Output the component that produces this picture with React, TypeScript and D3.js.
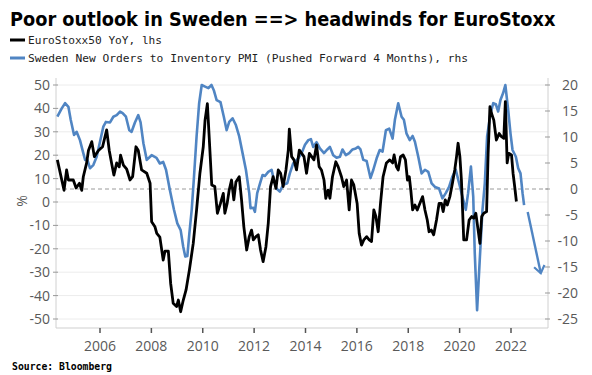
import React, { useLayoutEffect, useRef, useState } from "react";
import * as d3 from "d3";

const W = 592;
const H = 375;

const titleText = "Poor outlook in Sweden ==> headwinds for EuroStoxx";
const legendLabels = ["EuroStoxx50 YoY, lhs", "Sweden New Orders to Inventory PMI (Pushed Forward 4 Months), rhs"];
const sourceText = "Source: Bloomberg";

const xTickYears = [2006, 2008, 2010, 2012, 2014, 2016, 2018, 2020, 2022];
const leftTicks = [50, 40, 30, 20, 10, 0, -10, -20, -30, -40, -50];
const rightTicks = [20, 15, 10, 5, 0, -5, -10, -15, -20, -25];

// EuroStoxx50 YoY (lhs), decimal year
const euroTimes = [
  2004.34, 2004.6, 2004.7, 2004.77, 2004.96, 2005.07, 2005.2, 2005.29, 2005.35, 2005.48, 2005.55, 2005.68, 2005.78, 2005.94,
  2006.1, 2006.26, 2006.36, 2006.45, 2006.54, 2006.65, 2006.75, 2006.8, 2006.91, 2007.04, 2007.17, 2007.27, 2007.4, 2007.49,
  2007.62, 2007.82, 2007.95, 2008.01, 2008.14, 2008.21, 2008.33, 2008.46, 2008.53, 2008.66, 2008.75, 2008.85, 2008.98, 2009.05,
  2009.14, 2009.24, 2009.35, 2009.48, 2009.63, 2009.76, 2009.89, 2010.02, 2010.09, 2010.18, 2010.25, 2010.35, 2010.47, 2010.57,
  2010.69, 2010.8, 2010.86, 2010.95, 2011.03, 2011.12, 2011.21, 2011.29, 2011.42, 2011.51, 2011.6, 2011.71, 2011.81, 2011.9,
  2011.97, 2012.07, 2012.16, 2012.25, 2012.35, 2012.46, 2012.55, 2012.64, 2012.74, 2012.85, 2012.94, 2013.03, 2013.13, 2013.24,
  2013.33, 2013.37, 2013.46, 2013.55, 2013.65, 2013.76, 2013.85, 2013.94, 2014.04, 2014.15, 2014.24, 2014.33, 2014.43, 2014.53,
  2014.62, 2014.72, 2014.79, 2014.88, 2014.95, 2015.05, 2015.18, 2015.27, 2015.4, 2015.49, 2015.6, 2015.7, 2015.79, 2015.88,
  2016.01, 2016.09, 2016.18, 2016.27, 2016.38, 2016.48, 2016.57, 2016.66, 2016.74, 2016.83, 2016.92, 2017.02, 2017.15, 2017.28,
  2017.39, 2017.45, 2017.54, 2017.61, 2017.7, 2017.8, 2017.89, 2017.97, 2018.04, 2018.1, 2018.17, 2018.26, 2018.35, 2018.45,
  2018.56, 2018.65, 2018.74, 2018.81, 2018.9, 2018.99, 2019.1, 2019.2, 2019.29, 2019.36, 2019.44, 2019.52, 2019.62, 2019.72,
  2019.81, 2019.88, 2019.94, 2020.01, 2020.07, 2020.16, 2020.27, 2020.37, 2020.47, 2020.55, 2020.63, 2020.72, 2020.79, 2020.86,
  2020.94, 2021.05, 2021.11, 2021.18, 2021.24, 2021.33, 2021.43, 2021.54, 2021.63, 2021.72, 2021.78, 2021.85, 2021.91, 2022.02,
  2022.08, 2022.15, 2022.21,
];
const euroValues = [
  18, 5, 13.7, 9.4, 9.4, 6, 8, 5, 10.8, 16.7, 22, 25.8, 19.4, 22,
  23.6, 30.8, 22, 16.7, 11.5, 16.7, 15, 20, 15.8, 14, 9.4, 10.8, 23.6, 22,
  13.7, 12.3, 8, -8.4, -10.6, -13.4, -15, -24.8, -21, -21, -34.7, -43.3, -44.7, -41.9,
  -46.9, -42, -37.6, -29, -17.7, -3.4, 12.3, 23.6, 35, 42, 27.9, 7.3, 6.6, -4.8,
  -0.6, 3.7, -4.8, -0.6, 5.1, 9.4, 0.9, 8.5, 10.8, 0.9, -10.6, -20.5, -14.8, -12,
  -16.2, -14.8, -14, -20.5, -25.5, -19.1, -9.1, 6.6, 10.8, 5.8, 13.7, 12.3, 6.6, 13.7,
  22.2, 31.1, 19.4, 18, 13.7, 22.2, 20.8, 19.4, 12.3, 20.8, 19.4, 18, 24.4, 15.1,
  13.7, 9.4, 1.6, 5.1, 1.6, 10.8, 17.2, 15.1, 10.8, 6.6, 9.4, -3.4, 9.4, 7.3,
  -0.6, -13.4, -18.4, -16.2, -14.8, -16.2, -16.9, -3.4, -6.2, -12.7, -0.6, 10.8, 16.7, 18,
  16.7, 20.1, 15, 13.7, 19.4, 20.1, 18, 9.4, 10.8, 5.1, -3.4, -1.3, -3.4, -0.6,
  2.3, -3.4, -7.7, -12.7, -12, -14, -7.7, -0.6, -0.6, -4.1, 0.9, -1.3, 2.3, 8,
  13.7, 19.4, 25.1, 19.4, 9.4, -16.2, -16.2, -7.7, -6.2, -6.9, -4.8, -12, -17.7, -6.2,
  -4.8, -4.1, 20.8, 40.7, 37.9, 35, 26.5, 29.3, 27.9, 27.2, 42.9, 16.7, 20.8, 20.1,
  12.3, 6, 0.2,
];

// Sweden New Orders to Inventory PMI, pushed forward 4 months (rhs)
const swedenTimes = [
  2004.34, 2004.51, 2004.64, 2004.77, 2004.86, 2004.99, 2005.09, 2005.22, 2005.35, 2005.42, 2005.51, 2005.61, 2005.74, 2005.87,
  2006.0, 2006.13, 2006.23, 2006.39, 2006.52, 2006.65, 2006.78, 2006.88, 2007.01, 2007.14, 2007.23, 2007.36, 2007.49, 2007.58,
  2007.69, 2007.82, 2008.01, 2008.2, 2008.33, 2008.46, 2008.57, 2008.72, 2008.88, 2009.01, 2009.14, 2009.24, 2009.32, 2009.4,
  2009.48, 2009.57, 2009.66, 2009.76, 2009.86, 2009.96, 2010.09, 2010.22, 2010.34, 2010.43, 2010.54, 2010.69, 2010.82, 2010.93,
  2011.03, 2011.16, 2011.29, 2011.42, 2011.55, 2011.68, 2011.81, 2011.86, 2011.97, 2012.03, 2012.12, 2012.23, 2012.33, 2012.42,
  2012.55, 2012.68, 2012.77, 2012.87, 2013.0, 2013.13, 2013.29, 2013.39, 2013.52, 2013.72, 2013.85, 2013.98, 2014.11, 2014.21,
  2014.3, 2014.43, 2014.56, 2014.72, 2014.85, 2014.95, 2015.08, 2015.21, 2015.34, 2015.44, 2015.57, 2015.7, 2015.83, 2015.96,
  2016.05, 2016.14, 2016.25, 2016.38, 2016.53, 2016.64, 2016.77, 2016.89, 2017.0, 2017.13, 2017.26, 2017.39, 2017.48, 2017.61,
  2017.74, 2017.83, 2017.93, 2018.06, 2018.17, 2018.26, 2018.39, 2018.52, 2018.65, 2018.78, 2018.91, 2019.04, 2019.2, 2019.33,
  2019.46, 2019.59, 2019.72, 2019.85, 2019.98, 2020.11, 2020.24, 2020.33, 2020.44, 2020.53, 2020.59, 2020.68, 2020.79, 2020.89,
  2020.98, 2021.07, 2021.2, 2021.31, 2021.41, 2021.5, 2021.59, 2021.69, 2021.78, 2021.89, 2021.98, 2022.06, 2022.19, 2022.28,
  2022.37, 2022.45, 2022.51,
];
const swedenValues = [
  13.9, 15.5, 16.5, 15.8, 13.3, 10.4, 11, 9.4, 6.9, 5.6, 5.6, 4, 4.6, 6.2,
  9.1, 12, 12.9, 12.8, 13.9, 14.2, 14.9, 14.6, 13.9, 11.3, 11, 12.8, 14.2, 12.8,
  8.8, 5.6, 6.5, 6, 4.9, 5.2, 3.7, -0.2, -4, -6.6, -7.9, -11.1, -13, -12.9,
  -8.5, -4, 2.4, 10.1, 16.5, 20, 19.7, 19.4, 20, 19, 17.1, 16.7, 13.9, 11.3,
  12.9, 13.6, 12.3, 10.1, 6.9, 3.7, -0.8, -3.7, -3.6, -4.4, -0.8, 1.1, 2.7, 2.5,
  3.3, 3.7, 1.7, 0.1, -0.5, 0.8, 1.1, 3, 4.9, 5.9, 6.9, 8.5, 9.4, 9.6,
  8.1, 9, 7.8, 6.9, 7.6, 8.1, 6.5, 6, 6.2, 7.6, 6.5, 6.9, 7.6, 7.8,
  8.1, 7.6, 5.6, 5.4, 2.1, 3.7, 5.9, 7.5, 7.2, 11.3, 11.6, 9.7, 13.3, 16.5,
  13.9, 13.3, 10.7, 9.4, 10.2, 9.1, 6.2, 3, 3.7, 3.3, 1.1, 0.4, 0.1, -1.8,
  -0.8, 0.4, 2.4, 3.7, 1.1, -1.5, -4, -0.8, 4.3, -1.5, -12.4, -23.3, -13, -4,
  1.1, 10.1, 14.5, 16.5, 16.3, 14.9, 17.1, 18.4, 20, 15.2, 10.7, 7.5, 6.2, 4,
  3, -0.8, -3.1,
];

// projected arrow (rhs)
const arrowTimes = [2022.65, 2023.16];
const arrowValues = [-4.4, -16.2];

const PL = 56;
const PR = 548;
const PT = 78;
const PB = 328;
const TITLE_W = 546;

export default function App() {
  const titleRef = useRef<SVGTextElement | null>(null);
  const [titleScale, setTitleScale] = useState(1);

  useLayoutEffect(() => {
    if (titleRef.current) {
      const w = titleRef.current.getComputedTextLength();
      if (w > 0) setTitleScale(TITLE_W / w);
    }
  }, []);

  const x = d3.scaleLinear().domain([2006, 2022]).range([100, 511]);
  const yL = d3.scaleLinear().domain([-50, 50]).range([319, 85]);
  const yR = d3.scaleLinear().domain([-25, 20]).range([319, 85]);

  const euroData = euroTimes.map((t, i) => [t, euroValues[i]] as [number, number]);
  const swedenData = swedenTimes.map((t, i) => [t, swedenValues[i]] as [number, number]);

  const euroLine = d3.line<[number, number]>().x((d) => x(d[0])).y((d) => yL(d[1]));
  const swedenLine = d3.line<[number, number]>().x((d) => x(d[0])).y((d) => yR(d[1]));

  const ax0 = x(arrowTimes[0]);
  const ay0 = yR(arrowValues[0]);
  const ax1 = x(arrowTimes[1]);
  const ay1 = yR(arrowValues[1]);
  const ang = Math.atan2(ay1 - ay0, ax1 - ax0);
  const headLen = 9;
  const spread = Math.PI / 5;
  const h1 = [ax1 - headLen * Math.cos(ang - spread), ay1 - headLen * Math.sin(ang - spread)];
  const h2 = [ax1 - headLen * Math.cos(ang + spread), ay1 - headLen * Math.sin(ang + spread)];

  const blue = "#5085c3";
  const tickColor = "#595959";
  const tickFont = "'Open Sans', 'Liberation Sans', sans-serif";

  return (
    <svg
      width={W}
      height={H}
      style={{ position: "absolute", left: 0, top: 0, background: "#fff", display: "block" }}
    >
      <rect x={0} y={0} width={W} height={H} fill="#fff" />
      <g transform={`translate(10, 26) scale(${titleScale}, 1)`}>
        <text
          ref={titleRef}
          x={0}
          y={0}
          fontFamily="'DejaVu Sans', Verdana, sans-serif"
          fontWeight="bold"
          fontSize={19}
          fill="#000"
        >
          {titleText}
        </text>
      </g>

      {/* legend */}
      <line x1={10} x2={25} y1={40} y2={40} stroke="#000" strokeWidth={3} />
      <text x={28} y={44} fontFamily="'DejaVu Sans Mono', monospace" fontSize={11} fill="#222" textLength={134} lengthAdjust="spacingAndGlyphs">
        {legendLabels[0]}
      </text>
      <line x1={10} x2={25} y1={58} y2={58} stroke={blue} strokeWidth={3} />
      <text x={28} y={62} fontFamily="'DejaVu Sans Mono', monospace" fontSize={11} fill="#222" textLength={440} lengthAdjust="spacingAndGlyphs">
        {legendLabels[1]}
      </text>

      {/* gridlines */}
      {leftTicks.map((t) => (
        <line key={"g" + t} x1={PL} x2={PR} y1={yL(t)} y2={yL(t)} stroke="#ececec" strokeWidth={1} />
      ))}

      {/* axes frame */}
      <line x1={PL} x2={PL} y1={PT} y2={PB} stroke="#d0d0d0" strokeWidth={1} />
      <line x1={PR} x2={PR} y1={PT} y2={PB} stroke="#d0d0d0" strokeWidth={1} />
      <line x1={PL} x2={PR} y1={PB} y2={PB} stroke="#cfcfcf" strokeWidth={1} />

      {/* left ticks */}
      {leftTicks.map((t) => (
        <g key={"l" + t}>
          <line x1={PL - 3} x2={PL + 2} y1={yL(t)} y2={yL(t)} stroke="#999" strokeWidth={1} />
          <text x={50} y={yL(t)} dy="0.35em" textAnchor="end" fontFamily={tickFont} fontSize={14} fill={tickColor}>
            {String(t)}
          </text>
        </g>
      ))}
      <text
        transform={`translate(22, ${yL(0) - 1}) rotate(-90)`}
        textAnchor="middle"
        dy="0.35em"
        fontFamily={tickFont}
        fontSize={14}
        fill={tickColor}
      >
        %
      </text>

      {/* right ticks */}
      {rightTicks.map((t) => (
        <g key={"r" + t}>
          <line x1={PR - 3} x2={PR + 2} y1={yR(t)} y2={yR(t)} stroke="#999" strokeWidth={1} />
          <text x={578} y={yR(t)} dy="0.35em" textAnchor="end" fontFamily={tickFont} fontSize={14} fill={tickColor}>
            {String(t)}
          </text>
        </g>
      ))}

      {/* bottom ticks */}
      {xTickYears.map((yr) => (
        <g key={"x" + yr}>
          <line x1={x(yr)} x2={x(yr)} y1={PB} y2={PB + 5} stroke="#555" strokeWidth={1.5} />
          <text x={x(yr)} y={351} textAnchor="middle" fontFamily={tickFont} fontSize={14} fill={tickColor}>
            {String(yr)}
          </text>
        </g>
      ))}

      {/* zero line (rhs) */}
      <line x1={PL} x2={PR} y1={yR(0)} y2={yR(0)} stroke="#9a9a9a" strokeWidth={1} strokeDasharray="4,3" />

      {/* series */}
      <path d={swedenLine(swedenData) || ""} fill="none" stroke={blue} strokeWidth={2.6} strokeLinejoin="round" />
      <path d={euroLine(euroData) || ""} fill="none" stroke="#000" strokeWidth={2.8} strokeLinejoin="round" />

      {/* arrow */}
      <line x1={ax0} y1={ay0} x2={ax1} y2={ay1} stroke={blue} strokeWidth={2.4} />
      <polyline
        points={`${h1[0]},${h1[1]} ${ax1},${ay1} ${h2[0]},${h2[1]}`}
        fill="none"
        stroke={blue}
        strokeWidth={2.2}
        strokeLinejoin="miter"
      />

      <text x={12} y={370} fontFamily="'DejaVu Sans Mono', monospace" fontWeight="bold" fontSize={10} fill="#000" textLength={100} lengthAdjust="spacingAndGlyphs">
        {sourceText}
      </text>
    </svg>
  );
}
